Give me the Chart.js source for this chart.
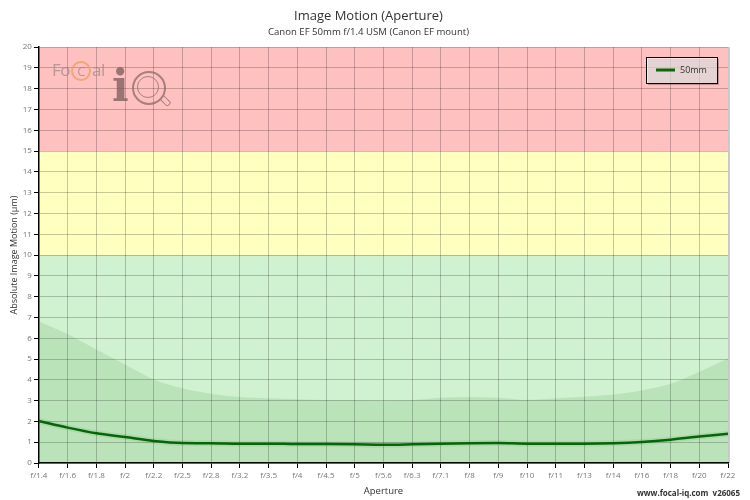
<!DOCTYPE html>
<html>
<head>
<meta charset="utf-8">
<script src="https://cdn.jsdelivr.net/npm/chart.js@4/dist/chart.umd.min.js"></script>
<style>
  html, body { margin: 0; padding: 0; background: #fff; }
  #wrap { position: relative; width: 750px; height: 500px; font-family: "Open Sans", sans-serif; }
  #logo { position: absolute; left: 52px; top: 58px; opacity: 0.75; pointer-events: none; }
  #logo .focal { position: absolute; left: 0; top: 0; font-size: 17px; color: #a08a8a; letter-spacing: -0.5px; white-space: nowrap; }
  #logo .ring { display: inline-block; width: 16px; height: 16px; line-height: 16px; text-align: center; border: 2px solid #e8a060; border-radius: 50%; color: #b08080; font-size: 13px; margin: 0 1px; }
  #logo .i { position: absolute; left: 60px; top: 2px; font-size: 44px; font-weight: bold; color: #7a5a5a; font-family: "DejaVu Serif", serif; }
  #logo .q { position: absolute; left: 80px; top: 13px; width: 30px; height: 30px; border: 2px solid #8a6a6a; border-radius: 50%; }
  #logo .q::after { content: ""; position: absolute; left: 3px; top: 3px; width: 20px; height: 20px; border: 1.5px solid #8a6a6a; border-radius: 50%; }
  #logo .h { position: absolute; left: 108px; top: 40px; width: 9px; height: 4px; border: 1.5px solid #8a6a6a; border-radius: 2px; transform: rotate(45deg); }
  #foot { position: absolute; right: 10px; top: 487px; font-size: 8px; font-weight: bold; color: #333; }
</style>
</head>
<body>
<div id="wrap">
  <canvas id="chart" width="750" height="500"></canvas>
  <div id="logo">
    <div class="focal">Fo<span class="ring">C</span>al</div>
    <div class="i">i</div>
    <div class="q"></div>
    <div class="h"></div>
  </div>
  <div id="foot">www.focal-iq.com&nbsp; v26065</div>
</div>
<script>
// apertures along the x axis
const apertures = ['f/1.4', 'f/1.6', 'f/1.8', 'f/2', 'f/2.2', 'f/2.5', 'f/2.8', 'f/3.2', 'f/3.5', 'f/4',
    'f/4.5', 'f/5', 'f/5.6', 'f/6.3', 'f/7.1', 'f/8', 'f/9', 'f/10', 'f/11', 'f/13', 'f/14', 'f/16',
    'f/18', 'f/20', 'f/22'];

// 50mm measured image motion (µm)
const motion50 = [2.02, 1.70, 1.43, 1.25, 1.06, 0.96, 0.95, 0.93, 0.93, 0.91, 0.91, 0.90, 0.88,
    0.90, 0.93, 0.95, 0.96, 0.93, 0.93, 0.93, 0.95, 1.01, 1.12, 1.27, 1.41];

// upper edge of the shaded range
const rangeTop = [6.8, 6.19, 5.46, 4.74, 4.02, 3.59, 3.33, 3.17, 3.11, 3.06, 3.03, 3.03, 3.01,
    3.03, 3.14, 3.17, 3.14, 3.03, 3.11, 3.19, 3.30, 3.49, 3.81, 4.39, 5.03];

// quality zones: [from, to, colour]
const zones = [
    [0, 10, '#d0f2d0'],
    [10, 15, '#ffffc0'],
    [15, 20, '#ffc0c0']
];

const yTicks = { min: 0, max: 20, step: 1 };

const zonePlugin = {
    id: 'zones',
    beforeDraw(chart) {
        const { ctx, chartArea: a, scales: { y } } = chart;
        ctx.save();
        zones.forEach(([from, to, color]) => {
            const top = y.getPixelForValue(to);
            const bottom = y.getPixelForValue(from);
            ctx.fillStyle = color;
            ctx.fillRect(a.left, top, a.right - a.left, bottom - top);
        });
        // thin grey frame on the right edge
        ctx.fillStyle = '#ccc';
        ctx.fillRect(a.right + 1, a.top, 1, a.bottom - a.top);
        ctx.restore();
    }
};

// boxed legend in the top right corner
const legendBox = {
    id: 'legendBox',
    afterDraw(chart) {
        const ds = chart.data.datasets.find(d => d.showInLegend);
        if (!ds) return;
        const ctx = chart.ctx;
        const x = 646, y = 57, w = 71, h = 26;
        ctx.save();
        ctx.fillStyle = 'rgba(0,0,0,0.25)';
        ctx.fillRect(x + 2, y + 2, w, h);
        ctx.fillStyle = 'rgba(255,255,255,0.6)';
        ctx.fillRect(x, y, w, h);
        ctx.strokeStyle = '#000';
        ctx.lineWidth = 1;
        ctx.strokeRect(x + 0.5, y + 0.5, w, h);
        ctx.strokeStyle = ds.borderColor;
        ctx.lineWidth = 3;
        ctx.beginPath();
        ctx.moveTo(x + 10, y + 13);
        ctx.lineTo(x + 29, y + 13);
        ctx.stroke();
        ctx.fillStyle = '#333';
        ctx.font = '9px "Open Sans"';
        ctx.textBaseline = 'middle';
        ctx.fillText(ds.label, x + 34, y + 13.5);
        ctx.restore();
    }
};

new Chart(document.getElementById('chart'), {
    type: 'line',
    data: {
        labels: apertures,
        datasets: [
            {
                label: 'range',
                data: rangeTop,
                fill: 'origin',
                backgroundColor: 'rgba(0,100,0,0.1)',
                borderWidth: 0,
                pointRadius: 0,
                cubicInterpolationMode: 'monotone'
            },
            {
                label: 'shadow',
                data: motion50,
                fill: false,
                borderColor: 'rgba(0,100,0,0.08)',
                borderWidth: 6,
                pointRadius: 0,
                cubicInterpolationMode: 'monotone'
            },
            {
                label: '50mm',
                showInLegend: true,
                data: motion50,
                fill: false,
                borderColor: '#0b650b',
                borderWidth: 2.5,
                pointRadius: 0,
                cubicInterpolationMode: 'monotone'
            }
        ]
    },
    options: {
        responsive: false,
        animation: false,
        devicePixelRatio: 1,
        layout: { padding: { left: 9, right: 22, top: 0, bottom: 3 } },
        plugins: {
            legend: { display: false },
            tooltip: { enabled: false },
            title: {
                display: true,
                text: 'Image Motion (Aperture)',
                color: '#333',
                font: { family: 'Open Sans', size: 13, weight: 'normal' },
                padding: { top: 8, bottom: 3 }
            },
            subtitle: {
                display: true,
                text: 'Canon EF 50mm f/1.4 USM (Canon EF mount)',
                color: '#333',
                font: { family: 'Open Sans', size: 9.6 },
                padding: { top: 0, bottom: 9 }
            }
        },
        scales: {
            x: {
                offset: false,
                grid: { color: 'rgba(0,0,0,0.22)', tickColor: '#000', tickLength: 5 },
                border: { color: '#000', width: 1.5 },
                ticks: {
                    autoSkip: false, maxRotation: 0, padding: 3,
                    color: '#777', font: { family: 'Open Sans', size: 8 }
                },
                title: {
                    display: true, text: 'Aperture', color: '#333',
                    font: { family: 'Open Sans', size: 9.5 }, padding: { top: 2, bottom: 0 }
                }
            },
            y: {
                min: yTicks.min,
                max: yTicks.max,
                grid: { color: 'rgba(0,0,0,0.22)', tickColor: '#000', tickLength: 5 },
                border: { color: '#000', width: 1.5 },
                ticks: {
                    stepSize: yTicks.step, autoSkip: false, padding: 2,
                    color: '#777', font: { family: 'Open Sans', size: 8 }
                },
                title: {
                    display: true, text: 'Absolute Image Motion (µm)', color: '#333',
                    font: { family: 'Open Sans', size: 9 }, padding: { top: 0, bottom: 1 }
                }
            }
        }
    },
    plugins: [zonePlugin, legendBox]
});
</script>
</body>
</html>
